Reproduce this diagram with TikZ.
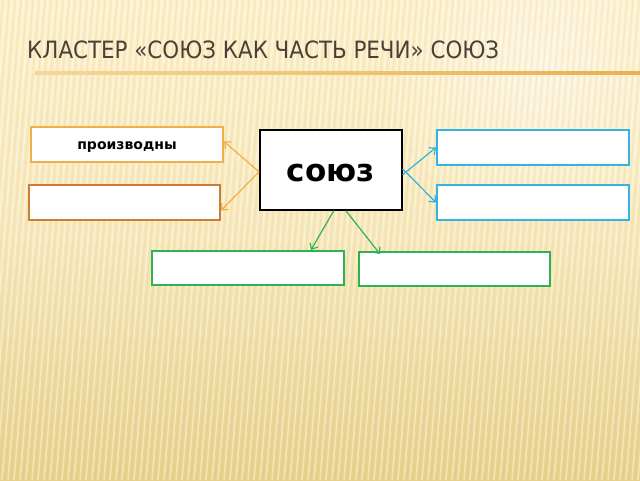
\documentclass[tikz,border=0pt]{standalone}
\usepackage{fontspec}
\setmainfont{DejaVu Sans}
\newfontfamily\titlefont{DejaVu Sans Condensed}
\usetikzlibrary{arrows.meta,shadings}
\definecolor{bgtop}{HTML}{FCEFC9}
\definecolor{bgbot}{HTML}{E7D08A}
\definecolor{titlecol}{HTML}{4A4136}
\definecolor{linecol}{HTML}{E8B24E}
\definecolor{orangeb}{HTML}{F2AE48}
\definecolor{brownb}{HTML}{C97D36}
\definecolor{blueb}{HTML}{33B3DD}
\definecolor{greenb}{HTML}{2DB255}
\tikzset{
  box/.style={draw, line width=2pt, fill=white, anchor=north west, inner sep=0pt},
  conn/.style={line width=1.2pt, -{Straight Barb[length=5pt,width=9pt]}},
  stripe/.style={white, line width=1.6pt, opacity=0.4},
  dstripe/.style={bgbot!80!brown, line width=1pt, opacity=0.2}
}
\begin{document}
\begin{tikzpicture}[x=1pt,y=-1pt]
\useasboundingbox (0,0) rectangle (640,480);
% background
\shade[top color=bgtop, bottom color=bgbot, middle color=bgtop!75!bgbot] (0,0) rectangle (640,480);
\shade[inner color=white, outer color=bgtop, opacity=0.45] (540,70) circle (150);
\foreach \x in {-60,-54,...,700} {
  \draw[stripe] (\x,0) -- (\x-40,480);
  \draw[dstripe] (\x+3,0) -- (\x-37,480);
}
% title
\node[anchor=west, text=titlecol, font=\titlefont\fontsize{23.8}{27}\selectfont, inner sep=0pt] (title) at (27,50) {КЛАСТЕР «СОЮЗ КАК ЧАСТЬ РЕЧИ» СОЮЗ};
\coordinate (tl) at (35,73);
\coordinate (tr) at (640,73);
\shade[left color=linecol!40!bgtop, right color=linecol] ([yshift=-1.2pt]tl) rectangle ([yshift=1.2pt]tr);
% boxes
\node[box, draw=orangeb, minimum width=192pt, minimum height=35pt] (a1) at (30,126) {};
\node[font=\bfseries\fontsize{14}{16}\selectfont] (a1t) at ([yshift=-3pt]a1.center) {производны};
\node[box, draw=brownb, minimum width=191pt, minimum height=35pt] (a2) at (28,184) {};
\node[box, draw=black, line width=1.6pt, minimum width=142pt, minimum height=80pt] (c) at (259,129) {};
\node[font=\bfseries\fontsize{31}{34}\selectfont] (ct) at ([yshift=-3pt]c.center) {союз};
\node[box, draw=blueb, minimum width=192pt, minimum height=35pt] (r1) at (436,129) {};
\node[box, draw=blueb, minimum width=192pt, minimum height=35pt] (r2) at (436,184) {};
\node[box, draw=greenb, minimum width=192pt, minimum height=34pt] (b1) at (151,250) {};
\node[box, draw=greenb, minimum width=191pt, minimum height=34pt] (b2) at (358,251) {};
% connectors
\draw[conn, orangeb] ([yshift=-2pt]c.west) -- ([yshift=3pt]a1.east);
\draw[conn, orangeb] ([yshift=-2pt]c.west) -- ([yshift=-8pt]a2.east);
\draw[conn, blueb] ([yshift=-5pt]c.east) -- (r1.west);
\draw[conn, blueb] ([yshift=1pt]c.east) -- (r2.west);
\draw[conn, greenb] ([xshift=3pt]c.south) -- ([xshift=-34pt]b1.north east);
\draw[conn, greenb] ([xshift=15pt]c.south) -- ([xshift=22pt,yshift=-3pt]b2.north west);
\end{tikzpicture}
\end{document}
